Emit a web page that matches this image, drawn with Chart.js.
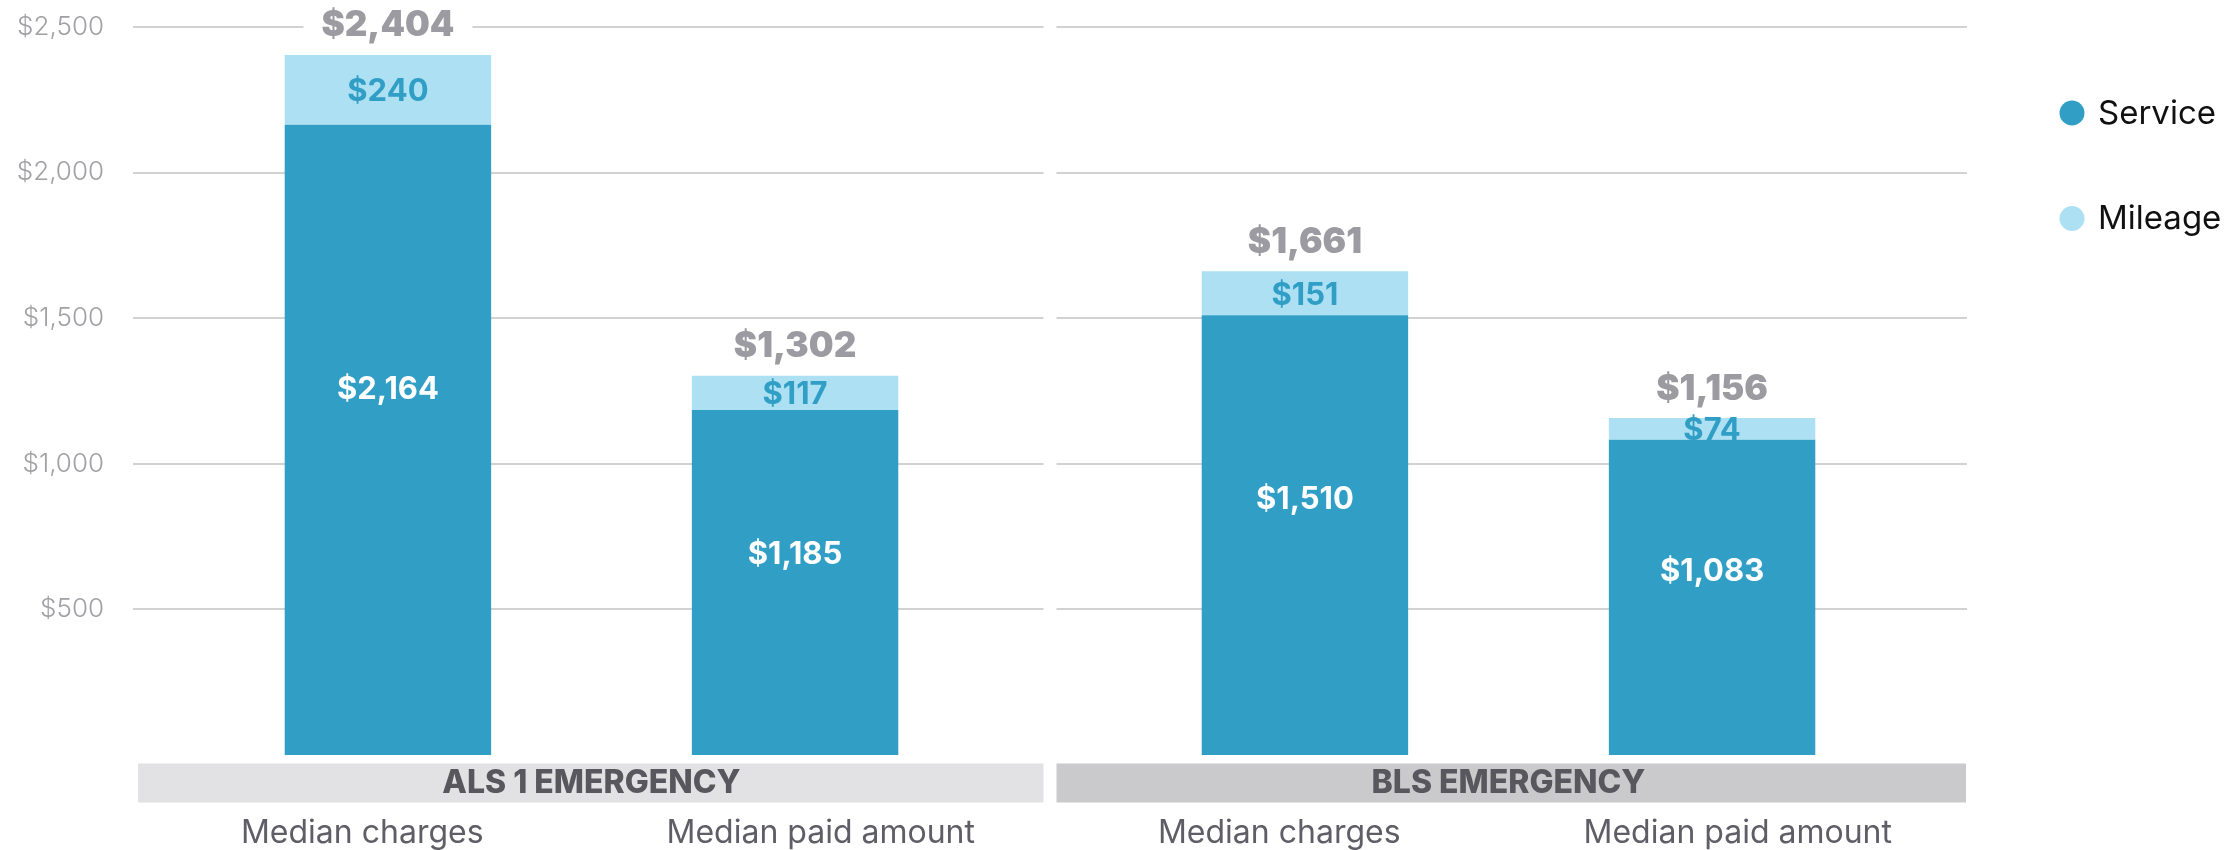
<!DOCTYPE html>
<html>
<head>
<meta charset="utf-8">
<script src="https://cdn.jsdelivr.net/npm/chart.js@4"></script>
<style>
  html, body { margin: 0; padding: 0; background: #fff; }
  #wrap { width: 2239px; height: 850px; }
</style>
</head>
<body>
<div id="wrap"><canvas id="chart"></canvas></div>
<script>
const groups = ['ALS 1 EMERGENCY', 'BLS EMERGENCY'];
const measures = ['Median charges', 'Median paid amount'];
const serviceCharges = [2164, 1510];
const mileageCharges = [240, 151];
const servicePaid = [1185, 1083];
const mileagePaid = [117, 74];
const totalCharges = [2404, 1661];
const totalPaid = [1302, 1156];
const yTicks = [500, 1000, 1500, 2000, 2500];

const serviceColor = '#319ec6';
const mileageColor = '#ade0f3';
const boxColors = ['#e2e2e4', '#cacacc'];
const totals = { charges: totalCharges, paid: totalPaid };

const money = v => '$' + v.toLocaleString('en-US');

// white gap in the gridlines between the two groups
const gapPlugin = {
  id: 'gap',
  beforeDatasetsDraw(chart) {
    const { ctx, chartArea, scales } = chart;
    const mid = (scales.x.getPixelForValue(0) + scales.x.getPixelForValue(1)) / 2;
    ctx.save();
    ctx.fillStyle = '#fff';
    ctx.fillRect(mid - 6.5, chartArea.top - 3, 13, chartArea.bottom - chartArea.top + 6);
    ctx.restore();
  }
};

const labelPlugin = {
  id: 'labels',
  afterDatasetsDraw(chart) {
    const { ctx } = chart;
    ctx.save();
    ctx.textAlign = 'center';
    ctx.textBaseline = 'middle';
    chart.data.datasets.forEach((ds, di) => {
      const meta = chart.getDatasetMeta(di);
      meta.data.forEach((bar, i) => {
        const v = ds.data[i];
        if (ds.part === 'service') {
          ctx.fillStyle = '#fff';
          ctx.font = '700 31px Inter';
          ctx.fillText(money(v), bar.x, bar.y + (bar.base - bar.y) * 0.42);
        } else {
          ctx.fillStyle = serviceColor;
          ctx.font = '700 31px Inter';
          ctx.fillText(money(v), bar.x, (bar.y + bar.base) / 2 + 2);
          // total above the stack
          const t = money(totals[ds.stack][i]);
          ctx.font = '900 35px Inter';
          const w = ctx.measureText(t).width;
          const ty = bar.y - 29;
          ctx.fillStyle = '#fff';
          ctx.fillRect(bar.x - w / 2 - 18, ty - 18, w + 36, 36);
          ctx.fillStyle = '#9c9ba1';
          ctx.fillText(t, bar.x, ty);
        }
      });
    });
    ctx.restore();
  },
  afterDraw(chart) {
    const { ctx, chartArea, scales } = chart;
    const x = scales.x;
    const mid = (x.getPixelForValue(0) + x.getPixelForValue(1)) / 2;
    const edges = [[chartArea.left, mid], [mid, chartArea.right]];
    ctx.save();
    ctx.textAlign = 'center';
    ctx.textBaseline = 'middle';
    groups.forEach((g, i) => {
      const [l, r] = edges[i];
      const bl = i === 0 ? l + 5 : l + 6.5;
      const br = i === 0 ? r - 6.5 : r - 1;
      ctx.fillStyle = boxColors[i];
      ctx.fillRect(bl, chartArea.bottom + 8.5, br - bl, 39);
      ctx.fillStyle = '#58575e';
      ctx.font = '800 32px Inter';
      ctx.fillText(g, (l + r) / 2, chartArea.bottom + 28.5);
      measures.forEach((m, j) => {
        ctx.fillStyle = '#5f5e66';
        ctx.font = '400 32px Inter';
        ctx.fillText(m, l + (r - l) * (2 * j + 1) / 4, chartArea.bottom + 78);
      });
    });
    // legend
    const items = chart.data.datasets.slice(0, 2);
    items.forEach((ds, i) => {
      const cy = 113 + i * 105.5;
      ctx.beginPath();
      ctx.fillStyle = ds.backgroundColor;
      ctx.arc(chartArea.right + 105, cy, 12.5, 0, Math.PI * 2);
      ctx.fill();
      ctx.fillStyle = '#111';
      ctx.font = '400 33px Inter';
      ctx.textAlign = 'left';
      ctx.fillText(ds.label, chartArea.right + 131, cy + 1);
    });
    ctx.restore();
  }
};

new Chart(document.getElementById('chart'), {
  type: 'bar',
  data: {
    labels: groups,
    datasets: [
      { label: 'Service', part: 'service', stack: 'charges', data: serviceCharges, backgroundColor: serviceColor },
      { label: 'Mileage', part: 'mileage', stack: 'charges', data: mileageCharges, backgroundColor: mileageColor },
      { label: 'Service', part: 'service', stack: 'paid', data: servicePaid, backgroundColor: serviceColor },
      { label: 'Mileage', part: 'mileage', stack: 'paid', data: mileagePaid, backgroundColor: mileageColor }
    ]
  },
  options: {
    responsive: true,
    maintainAspectRatio: false,
    animation: false,
    categoryPercentage: 0.888,
    barPercentage: 0.507,
    layout: { padding: { left: 0, right: 272, top: 27, bottom: 95 } },
    plugins: { legend: { display: false }, tooltip: { enabled: false } },
    scales: {
      x: { display: false, stacked: true },
      y: {
        stacked: true,
        min: 0,
        max: 2500,
        afterFit(s) { s.width = 133; s.paddingTop = 0; s.paddingBottom = 0; },
        afterBuildTicks(s) { s.ticks = yTicks.map(v => ({ value: v })); },
        ticks: {
          padding: 29,
          color: '#a0a0a5',
          font: { family: 'Inter', size: 26, weight: '300' },
          callback: v => money(v)
        },
        grid: { drawTicks: false, color: '#d2d2d5', lineWidth: 2 },
        border: { display: false }
      }
    }
  },
  plugins: [gapPlugin, labelPlugin]
});
</script>
</body>
</html>
